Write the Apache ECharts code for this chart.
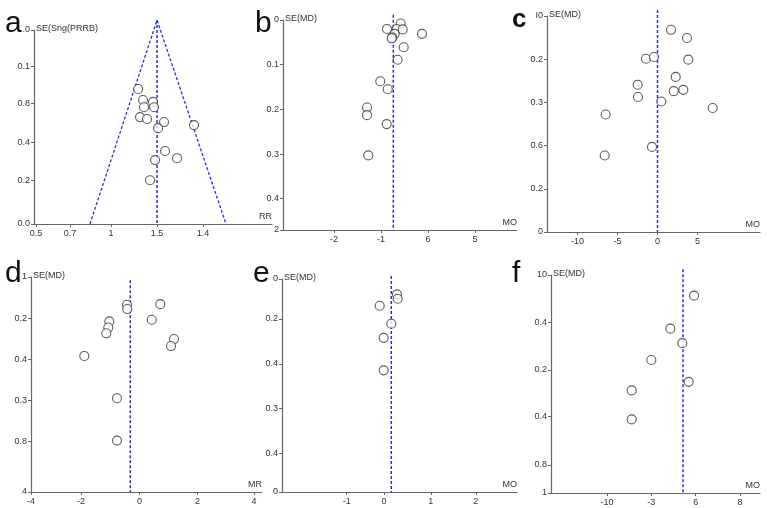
<!DOCTYPE html>
<html>
<head>
<meta charset="utf-8">
<script src="https://cdn.jsdelivr.net/npm/echarts@6/dist/echarts.min.js"></script>
<style>
  html, body { margin: 0; padding: 0; background: #fff; }
  #chart { width: 767px; height: 508px; }
</style>
</head>
<body>
<div id="chart"></div>
<script>
// 漏斗图 a-f
// panel a
var aEffect = [0.235, 0.278, 0.365, 0.287, 0.374, 0.252, 0.313, 0.461, 0.409, 0.722, 0.47, 0.383, 0.574, 0.339];
var aSE = [0.155, 0.184, 0.189, 0.203, 0.203, 0.229, 0.234, 0.242, 0.258, 0.25, 0.318, 0.342, 0.337, 0.395];
var aFunnelEffect = [-0.183, 0.4, 1.0];
var aFunnelSE = [0.51, -0.026, 0.51];
var aXTicks = [-0.652, -0.357, 0, 0.4, 0.8];
var aXLabels = ['0.5', '0.7', '1', '1.5', '1.4'];
var aYTicks = [0, 0.095, 0.192, 0.295, 0.395, 0.51];
var aYLabels = ['.0', '0.1', '0.8', '0.4', '0.2', '0.0'];

// panel b
var bEffect = [-0.581, -0.872, -0.666, -0.538, -0.709, -0.128, -0.76, -0.772, -0.517, -0.645, -1.015, -0.857, -1.298, -1.298, -0.879, -1.27];
var bSE = [0.008, 0.02, 0.02, 0.021, 0.031, 0.031, 0.039, 0.041, 0.061, 0.089, 0.137, 0.155, 0.196, 0.213, 0.233, 0.303];
var bXTicks = [-2, -1, 0, 1];
var bXLabels = ['-2', '-1', '6', '5'];
var bYTicks = [0, 0.1, 0.2, 0.3, 0.4, 0.47];
var bYLabels = ['0', '0.1', '0.2', '0.3', '0.4', '2'];

// panel c
var cEffect = [1.69, 3.69, -1.44, -0.44, 3.85, 2.28, -2.48, 2.03, 3.23, -2.44, 0.48, 6.9, -6.48, -0.69, -6.6];
var cSE = [0.032, 0.051, 0.099, 0.095, 0.101, 0.141, 0.159, 0.174, 0.171, 0.1875, 0.198, 0.213, 0.228, 0.303, 0.323];
var cXTicks = [-10, -5, 0, 5];
var cXLabels = ['-10', '-5', '0', '5'];
var cYTicks = [0, 0.1, 0.2, 0.3, 0.4, 0.5];
var cYLabels = ['I0', '0.2', '0.3', '0.6', '0.2', '0'];

// panel d
var dEffect = [-0.431, -0.421, 0.717, 0.421, -1.041, -1.076, -1.145, 1.19, 1.086, -1.903, -0.776, -0.776];
var dSE = [0.0676, 0.078, 0.066, 0.104, 0.108, 0.123, 0.137, 0.151, 0.168, 0.192, 0.295, 0.398];
var dXTicks = [-3.74, -2.02, 0, 2, 3.95];
var dXLabels = ['-4', '-2', '0', '2', '4'];
var dYTicks = [0, 0.1, 0.2, 0.3, 0.4, 0.523];
var dYLabels = ['1', '0.2', '0.4', '0.3', '0.8', '4'];

// panel e
var eEffect = [0.289, 0.304, -0.096, 0.162, -0.007, -0.007];
var eSE = [0.035, 0.045, 0.061, 0.102, 0.134, 0.208];
var eXTicks = [-0.83, 0, 1.04, 2.04];
var eXLabels = ['-1', '0', '1', '2'];
var eYTicks = [0, 0.091, 0.193, 0.295, 0.397, 0.485];
var eYLabels = ['0', '0.2', '0.4', '0.3', '0.4', '0'];

// panel f
var fEffect = [-0.19, -2.86, -1.51, -5.0, -0.79, -7.21, -7.21];
var fSE = [0.0435, 0.113, 0.1435, 0.179, 0.225, 0.243, 0.304];
var fXTicks = [-10, -5, 0, 5];
var fXLabels = ['-10', '-3', '6', '8'];
var fYTicks = [0, 0.1, 0.2, 0.298, 0.4, 0.459];
var fYLabels = ['10', '0.4', '0.2', '0.4', '0.8', '1'];

// pooled estimate line: [effect, top SE]
var pooled = { a: [0.4, -0.026], b: [-0.738, -0.012], c: [0, -0.014], d: [-0.317, 0.008], e: [0.162, -0.007], f: [-1.43, -0.012] };

var panels = [
  { id: 'a', eff: aEffect, se: aSE, xt: aXTicks, xl: aXLabels, yt: aYTicks, yl: aYLabels, xmin: -0.67, xmax: 1.4, xname: 'RR', yname: 'SE(Sng(PRRB)', box: [34, 30, 238, 194] },
  { id: 'b', eff: bEffect, se: bSE, xt: bXTicks, xl: bXLabels, yt: bYTicks, yl: bYLabels, xmin: -3.085, xmax: 1.894, xname: 'MO', yname: 'SE(MD)', box: [283, 20, 234, 210] },
  { id: 'c', eff: cEffect, se: cSE, xt: cXTicks, xl: cXLabels, yt: cYTicks, yl: cYLabels, xmin: -13.81, xmax: 12.81, xname: 'MO', yname: 'SE(MD)', box: [547, 16, 213, 216] },
  { id: 'd', eff: dEffect, se: dSE, xt: dXTicks, xl: dXLabels, yt: dYTicks, yl: dYLabels, xmin: -3.741, xmax: 4.224, xname: 'MR', yname: 'SE(MD)', box: [31, 277, 231, 215] },
  { id: 'e', eff: eEffect, se: eSE, xt: eXTicks, xl: eXLabels, yt: eYTicks, yl: eYLabels, xmin: -2.267, xmax: 2.956, xname: 'MO', yname: 'SE(MD)', box: [282, 279, 235, 213] },
  { id: 'f', eff: fEffect, se: fSE, xt: fXTicks, xl: fXLabels, yt: fYTicks, yl: fYLabels, xmin: -16.3, xmax: 7.24, xname: 'MO', yname: 'SE(MD)', box: [551, 275, 209, 218] }
];

// panel letters: [x, baseline y, size, weight]
var letterPos = { a: [5, 36, 30, 'normal'], b: [255, 36, 30, 'normal'], c: [512, 30, 26, 'bold'], d: [5, 286, 30, 'normal'], e: [253, 286, 30, 'normal'], f: [512, 286, 30, 'normal'] };

var axisColor = '#666';
var labelColor = '#333';
var dashBlue = '#2a2ae6';
var font = 'Liberation Sans, Arial, sans-serif';

var grids = [], xAxes = [], yAxes = [], series = [], graphics = [];

panels.forEach(function(p, i) {
  grids.push({ left: p.box[0], top: p.box[1], width: p.box[2], height: p.box[3], containLabel: false });
  xAxes.push({
    gridIndex: i, type: 'value', min: p.xmin, max: p.xmax, position: 'bottom',
    name: p.xname, nameLocation: 'end', nameGap: 0,
    nameTextStyle: { align: 'right', verticalAlign: 'bottom', padding: [0, 0, 3, 0], fontSize: 9, color: labelColor, fontFamily: font },
    axisLine: { show: true, onZero: false, lineStyle: { color: axisColor, width: 1.2 } },
    axisTick: { show: true, length: 3, customValues: p.xt, lineStyle: { color: axisColor } },
    axisLabel: {
      customValues: p.xt, fontSize: 9, color: labelColor, fontFamily: font, margin: 5,
      formatter: function(v) { var k = p.xt.indexOf(v); return k >= 0 ? p.xl[k] : ''; }
    },
    splitLine: { show: false }
  });
  yAxes.push({
    gridIndex: i, type: 'value', inverse: true, min: 0, max: p.yt[p.yt.length - 1], position: 'left',
    name: p.yname, nameLocation: 'start', nameGap: 1,
    nameTextStyle: { align: 'left', verticalAlign: 'middle', fontSize: 9, color: labelColor, fontFamily: font, padding: [0, 0, 0, 2] },
    axisLine: { show: true, onZero: false, lineStyle: { color: axisColor, width: 1.2 } },
    axisTick: { show: true, length: 3, customValues: p.yt, lineStyle: { color: axisColor } },
    axisLabel: {
      customValues: p.yt, fontSize: 9, color: labelColor, fontFamily: font, margin: 4,
      formatter: function(v) { var k = p.yt.indexOf(v); return k >= 0 ? p.yl[k] : ''; }
    },
    splitLine: { show: false }
  });

  var pts = p.eff.map(function(x, k) { return [x, p.se[k]]; });
  series.push({
    type: 'scatter', xAxisIndex: i, yAxisIndex: i, data: pts,
    symbol: 'circle', symbolSize: 9,
    itemStyle: { color: '#fff', borderColor: '#333', borderWidth: 1.1 },
    z: 3, silent: true
  });

  var pe = pooled[p.id];
  series.push({
    type: 'line', xAxisIndex: i, yAxisIndex: i, clip: false, symbol: 'none',
    data: [[pe[0], pe[1]], [pe[0], p.yt[p.yt.length - 1]]],
    lineStyle: { color: dashBlue, width: 1.5, type: [3, 2] }, z: 2, silent: true
  });

  var lp = letterPos[p.id];
  graphics.push({
    type: 'text', left: lp[0], top: lp[1] - lp[2] * 0.9,
    style: { text: p.id, fontSize: lp[2], fontWeight: lp[3], fontFamily: font, fill: '#111' }
  });
});

// funnel outline for panel a
series.push({
  type: 'line', xAxisIndex: 0, yAxisIndex: 0, clip: false, symbol: 'none',
  data: aFunnelEffect.map(function(x, k) { return [x, aFunnelSE[k]]; }),
  lineStyle: { color: dashBlue, width: 1.3, type: [3, 2] }, z: 2, silent: true
});

var chart = echarts.init(document.getElementById('chart'), null, { renderer: 'canvas' });
chart.setOption({
  animation: false,
  backgroundColor: '#fff',
  grid: grids,
  xAxis: xAxes,
  yAxis: yAxes,
  series: series,
  graphic: graphics
});
</script>
</body>
</html>
